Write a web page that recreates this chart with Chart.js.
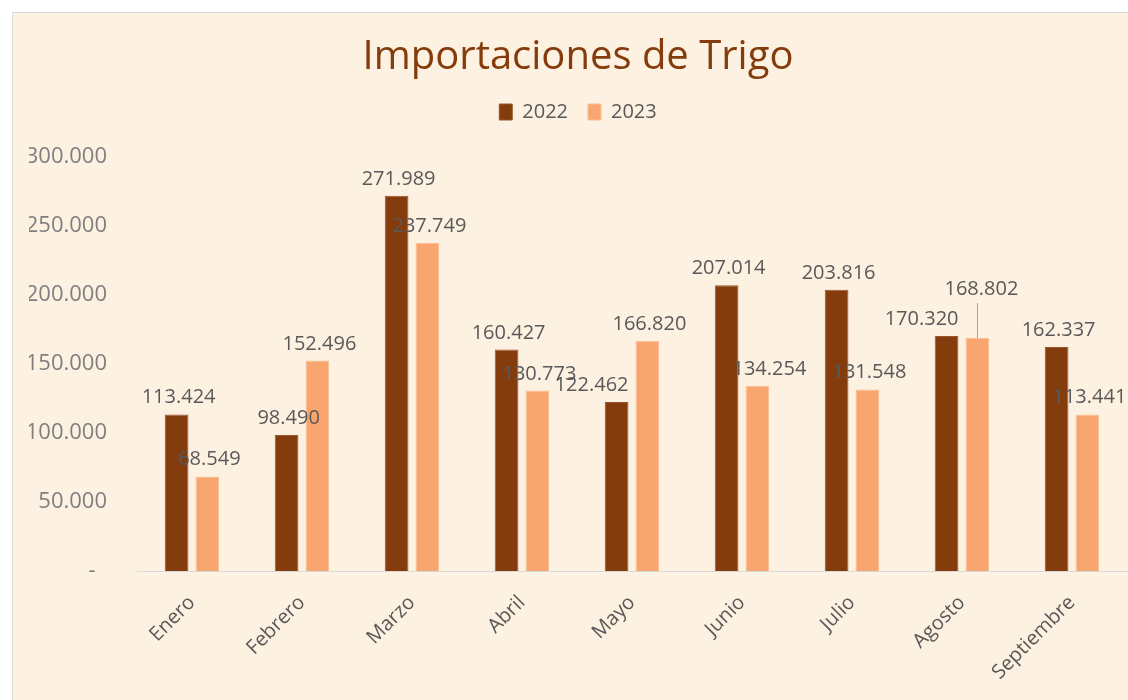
<!DOCTYPE html>
<html><head><meta charset="utf-8">
<script src="https://cdn.jsdelivr.net/npm/chart.js@4/dist/chart.umd.min.js"></script>
<style>
html,body{margin:0;padding:0;background:#fff;width:1128px;height:700px;overflow:hidden;}
#wrap{position:absolute;left:12px;top:12px;width:1116px;height:688px;background:#FDF1E1;border-left:1px solid #D9D9D9;border-top:1px solid #D9D9D9;}
canvas{display:block;}
</style></head>
<body>
<div id="wrap"><canvas id="c"></canvas></div>
<script>
const categories = ['Enero','Febrero','Marzo','Abril','Mayo','Junio','Julio','Agosto','Septiembre'];
const series2022 = [113424, 98490, 271989, 160427, 122462, 207014, 203816, 170320, 162337];
const series2023 = [68549, 152496, 237749, 130773, 166820, 134254, 131548, 168802, 113441];
const yTicks = [0, 50000, 100000, 150000, 200000, 250000, 300000];

const FONT = '"Open Sans", sans-serif';
// manual label nudges (dataset index, category index) -> offset in px, as in the original
const labelNudges = {'0-4': {dx: -27, dy: 0}, '0-7': {dx: -27, dy: 0}, '1-5': {dx: 10, dy: 0}, '1-7': {dx: 2, dy: -32, leader: true}};

const fmt = v => v.toLocaleString('de-DE');

const dataLabels = {
  id: 'dataLabels',
  afterDatasetsDraw(chart) {
    const ctx = chart.ctx;
    ctx.save();
    ctx.font = '20px ' + FONT;
    ctx.fillStyle = '#595959';
    ctx.textAlign = 'center';
    ctx.textBaseline = 'alphabetic';
    chart.data.datasets.forEach((ds, di) => {
      const meta = chart.getDatasetMeta(di);
      meta.data.forEach((bar, i) => {
        const n = labelNudges[di + '-' + i] || {dx: 0, dy: 0};
        const x = bar.x + 2 + n.dx;
        const y = bar.y - 11 + n.dy;
        if (n.leader) {
          ctx.strokeStyle = '#A6A6A6';
          ctx.lineWidth = 1;
          ctx.beginPath();
          ctx.moveTo(Math.round(bar.x) + 0.5, y + 8);
          ctx.lineTo(Math.round(bar.x) + 0.5, bar.y);
          ctx.stroke();
        }
        ctx.fillText(fmt(ds.data[i]), x, y);
      });
    });
    ctx.restore();
  }
};

// empty layout box that keeps a gap between the legend and the plot area
const legendGap = {
  id: 'legendGap',
  beforeInit(chart) {
    Chart.layouts.addBox(chart, {
      position: 'top', weight: 500, fullSize: true, options: {},
      left: 0, top: 0, right: 0, bottom: 0, width: 0, height: 0,
      update(w) { this.width = w; this.height = 25; this.right = w; },
      isHorizontal() { return true; },
      draw() {}
    });
  }
};

new Chart(document.getElementById('c'), {
  type: 'bar',
  data: {
    labels: categories,
    datasets: [
      {label: '2022', data: series2022, backgroundColor: '#843C0C', borderColor: '#9A5530', borderWidth: 1},
      {label: '2023', data: series2023, backgroundColor: '#F8A66E', borderColor: '#FBBE94', borderWidth: 1}
    ]
  },
  options: {
    responsive: true,
    maintainAspectRatio: false,
    animation: false,
    categoryPercentage: 0.56,
    barPercentage: 0.77,
    layout: {padding: {left: 16, right: 2, top: 0, bottom: 0}},
    plugins: {
      title: {display: true, text: 'Importaciones de Trigo', color: '#843C0C',
        font: {family: FONT, size: 40, weight: 'normal'}, padding: {top: 21, bottom: 0}},
      legend: {display: true, position: 'top',
        labels: {color: '#595959', font: {family: FONT, size: 20}, boxWidth: 13, boxHeight: 16, padding: 20}},
      tooltip: {enabled: false}
    },
    scales: {
      x: {
        grid: {display: false, drawTicks: false},
        border: {display: true, color: '#D9D9D9', width: 1},
        ticks: {color: '#595959', font: {family: FONT, size: 20}, minRotation: 45, maxRotation: 45, padding: 20},
        afterFit(s) { s.height = 130; }
      },
      y: {
        min: 0, max: 300000,
        grid: {display: false, drawTicks: false},
        border: {display: false},
        afterBuildTicks(s) { s.ticks = yTicks.map(v => ({value: v})); },
        ticks: {color: '#7F7F7F', font: {family: FONT, size: 22}, padding: 30,
          callback: v => v === 0 ? '-  ' : fmt(v)},
        afterFit(s) { s.width = 108; }
      }
    }
  },
  plugins: [dataLabels, legendGap]
});
</script>
</body></html>
